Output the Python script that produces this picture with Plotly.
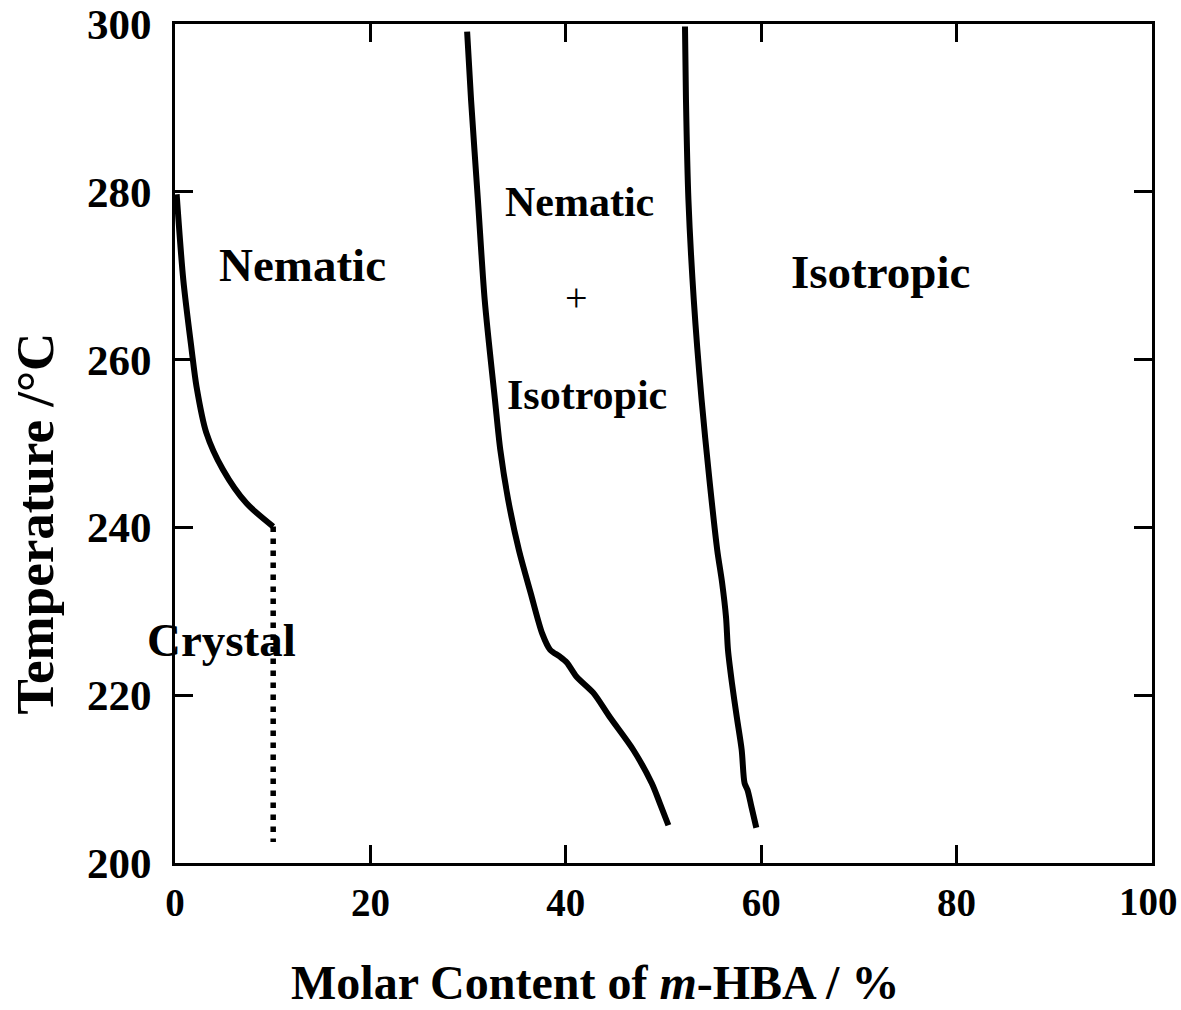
import plotly.graph_objects as go

# Phase boundaries: molar content of m-HBA (%) vs temperature (°C)
crystal_x = [0.17, 0.85, 1.7, 2.2, 3.2, 4.9, 7.3, 10.05]
crystal_t = [279.7, 269.5, 261.2, 256.8, 251.3, 246.9, 242.9, 240.1]

solid_x = [10.05, 10.05]
solid_t = [240.1, 202.5]

nematic_x = [29.9, 30.3, 31.0, 31.7, 32.75, 33.3, 34.1, 35.2, 36.4, 37.6,
             38.4, 39.4, 40.1, 41.1, 42.8, 44.5, 46.9, 48.8, 49.6, 50.5]
nematic_t = [299.1, 291.0, 279.1, 267.1, 255.2, 249.2, 243.3, 237.3, 232.2, 227.3,
             225.4, 224.6, 223.9, 222.2, 220.3, 217.4, 213.5, 209.5, 207.2, 204.5]

isotropic_x = [52.2, 52.3, 52.55, 53.1, 53.9, 54.7, 55.5, 56.0, 56.4, 56.6, 57.0,
               57.5, 58.0, 58.3, 58.6, 59.0, 59.5]
isotropic_t = [299.7, 291.0, 279.1, 267.1, 255.2, 245.7, 237.3, 233.4, 229.3, 225.4, 221.5,
               217.4, 213.5, 209.5, 208.7, 206.7, 204.2]

x_ticks = [0, 20, 40, 60, 80, 100]
y_ticks = [200, 220, 240, 260, 280, 300]

region_labels = ["Nematic", "Nematic", "+", "Isotropic", "Isotropic", "Crystal"]
label_x = [13.0, 41.45, 41.1, 42.2, 72.2, 4.8]
label_t = [271.3, 278.8, 267.4, 255.8, 270.5, 226.6]

SERIF = "Liberation Serif, Times New Roman, serif"
X_TICK_SIZE = 39

fig = go.Figure()
line_style = dict(color="black", width=6)
for xs, ts in [(crystal_x, crystal_t), (nematic_x, nematic_t), (isotropic_x, isotropic_t)]:
    fig.add_trace(go.Scatter(x=xs, y=ts, mode="lines",
                             line=dict(line_style, shape="spline", smoothing=0.8),
                             showlegend=False, hoverinfo="skip"))

fig.add_trace(go.Scatter(x=solid_x, y=solid_t, mode="lines",
                         line=dict(color="black", width=5.5, dash="5.5px,6.5px"),
                         showlegend=False, hoverinfo="skip"))

for text, xv, tv in zip(region_labels, label_x, label_t):
    is_plus = text == "+"
    fig.add_annotation(
        x=xv, y=tv, text=text if is_plus else f"<b>{text}</b>",
        showarrow=False, xanchor="center", yanchor="middle",
        font=dict(family=SERIF, size=40 if is_plus else (42 if tv > 250 and 35 < xv < 50 else 47),
                  color="black"),
    )

# axis titles placed as paper annotations
fig.add_annotation(
    xref="paper", yref="paper", x=0.43, y=-0.142, xanchor="center", yanchor="middle",
    text="<b>Molar Content of <i>m</i>-HBA / %</b>", showarrow=False,
    font=dict(family=SERIF, size=48, color="black"),
)
fig.add_annotation(
    xref="paper", yref="paper", x=-0.143, y=0.405, xanchor="center", yanchor="middle",
    text="<b>Temperature /°C</b>", textangle=-90, showarrow=False,
    font=dict(family=SERIF, size=53, color="black"),
)

# the last x tick label sits slightly inside the right edge of the page
last_tick = x_ticks[-1]
fig.add_annotation(
    x=last_tick, xref="x", yref="paper", y=0, yshift=-38, xshift=-4,
    xanchor="center", yanchor="middle", showarrow=False,
    text=f"<b>{last_tick}</b>", font=dict(family=SERIF, size=X_TICK_SIZE, color="black"),
)

axis_common = dict(
    showline=True, linecolor="black", linewidth=3, mirror="ticks",
    ticks="inside", ticklen=18, tickwidth=3, tickcolor="black",
    showgrid=False, zeroline=False, automargin=False,
    ticklabeloverflow="allow",
)

fig.update_xaxes(
    range=[0, 100], tickvals=x_ticks,
    ticktext=[f"<b>{v}</b>" if v != last_tick else "" for v in x_ticks],
    ticklabelstandoff=3,
    tickfont=dict(family=SERIF, size=X_TICK_SIZE, color="black"),
    **axis_common,
)
fig.update_yaxes(
    range=[200, 300], tickvals=y_ticks, ticktext=[f"<b>{v}</b>" for v in y_ticks],
    ticklabelstandoff=12,
    tickfont=dict(family=SERIF, size=43, color="black"),
    **axis_common,
)

fig.update_layout(
    width=1181, height=1010,
    margin=dict(l=175, r=29, t=24, b=147),
    paper_bgcolor="white", plot_bgcolor="white",
)

fig.write_html("out.html")
